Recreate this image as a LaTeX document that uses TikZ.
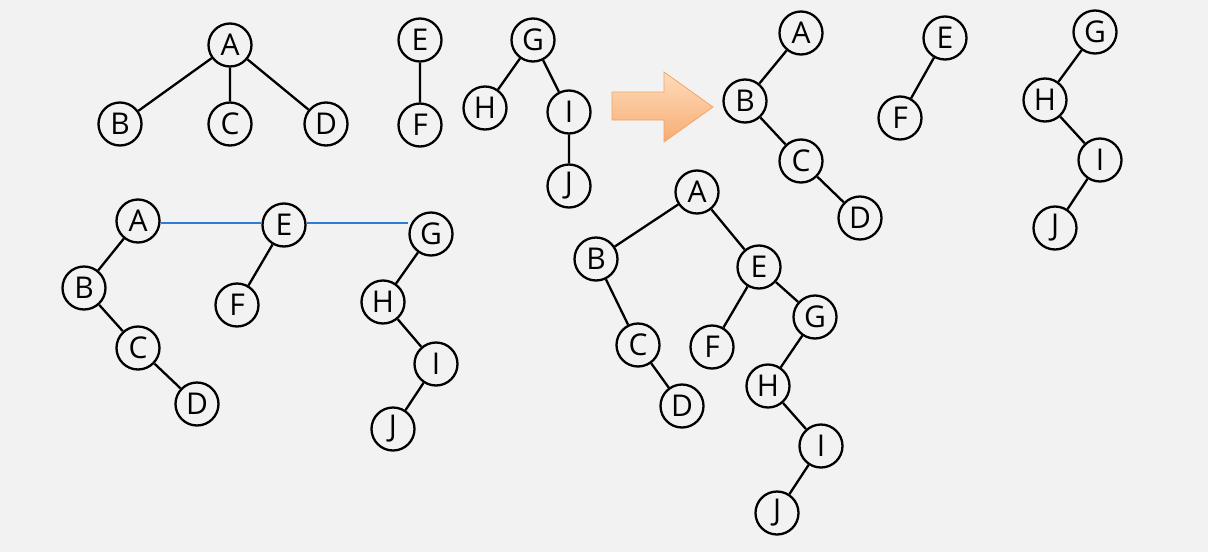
\documentclass[tikz,border=0pt]{standalone}
\usepackage{fontspec}
\setmainfont{Open Sans}
\begin{document}
\begin{tikzpicture}[x=1pt,y=-1pt,
  nd/.style={circle,draw=black,line width=2.3pt,fill=bgc,minimum size=43pt,inner sep=0pt,font=\fontsize{30}{32}\selectfont},
  ed/.style={line width=2.3pt,draw=black},
  bl/.style={line width=2.3pt,draw=blueline}]
\definecolor{bgc}{HTML}{F2F2F2}
\definecolor{blueline}{HTML}{2E7BD8}
\definecolor{arrowtop}{HTML}{FDDCBC}
\definecolor{arrowbot}{HTML}{F8AC72}
\definecolor{arrowedge}{HTML}{F2A469}
\fill[bgc] (0,0) rectangle (1208,552);
\useasboundingbox (0,0) rectangle (1208,552);
% top-left forest
\node[nd] (a1) at (230,45) {A};
\node[nd] (b1) at (120,124) {B};
\node[nd] (c1) at (230,124) {C};
\node[nd] (d1) at (326,124) {D};
\node[nd] (e1) at (420,40) {E};
\node[nd] (f1) at (420,125) {F};
\node[nd] (g1) at (533,40) {G};
\node[nd] (h1) at (485,108) {H};
\node[nd] (i1) at (569,112) {I};
\node[nd] (j1) at (569,186) {J};
\draw[ed] (a1)--(b1) (a1)--(c1) (a1)--(d1) (e1)--(f1) (g1)--(h1) (g1)--(i1) (i1)--(j1);
% arrow
\shade[top color=arrowtop,bottom color=arrowbot,draw=arrowedge,line width=0.8pt]
  (612,92) -- (664,92) -- (664,72) -- (713,107) -- (664,142) -- (664,120) -- (612,120) -- cycle;
% top-right binary trees
\node[nd] (a2) at (801,33) {A};
\node[nd] (b2) at (745,101) {B};
\node[nd] (c2) at (801,161) {C};
\node[nd] (d2) at (860,218) {D};
\node[nd] (e2) at (945,38) {E};
\node[nd] (f2) at (900,118) {F};
\node[nd] (g2) at (1095,32) {G};
\node[nd] (h2) at (1045,100) {H};
\node[nd] (i2) at (1100,160) {I};
\node[nd] (j2) at (1055,228) {J};
\draw[ed] (a2)--(b2) (b2)--(c2) (c2)--(d2) (e2)--(f2) (g2)--(h2) (h2)--(i2) (i2)--(j2);
% bottom-left linked
\node[nd] (a3) at (138,221) {A};
\node[nd] (b3) at (84,288) {B};
\node[nd] (c3) at (138,348) {C};
\node[nd] (d3) at (197,404) {D};
\node[nd] (e3) at (284,225) {E};
\node[nd] (f3) at (237,305) {F};
\node[nd] (g3) at (431,234) {G};
\node[nd] (h3) at (383,302) {H};
\node[nd] (i3) at (436,364) {I};
\node[nd] (j3) at (393,429) {J};
\draw[ed] (a3)--(b3) (b3)--(c3) (c3)--(d3) (e3)--(f3) (g3)--(h3) (h3)--(i3) (i3)--(j3);
\draw[bl] (a3.east |- 0,223) -- (e3.west |- 0,223);
\draw[bl] (e3.east |- 0,223) -- (g3.west |- 0,223);
% bottom-middle final tree
\node[nd] (a4) at (697,192) {A};
\node[nd] (b4) at (596,259) {B};
\node[nd] (c4) at (638,345) {C};
\node[nd] (d4) at (682,406) {D};
\node[nd] (e4) at (759,267) {E};
\node[nd] (f4) at (712,347) {F};
\node[nd] (g4) at (815,317) {G};
\node[nd] (h4) at (768,386) {H};
\node[nd] (i4) at (821,446) {I};
\node[nd] (j4) at (777,513) {J};
\draw[ed] (a4)--(b4) (b4)--(c4) (c4)--(d4) (a4)--(e4) (e4)--(f4) (e4)--(g4) (g4)--(h4) (h4)--(i4) (i4)--(j4);
\end{tikzpicture}
\end{document}
